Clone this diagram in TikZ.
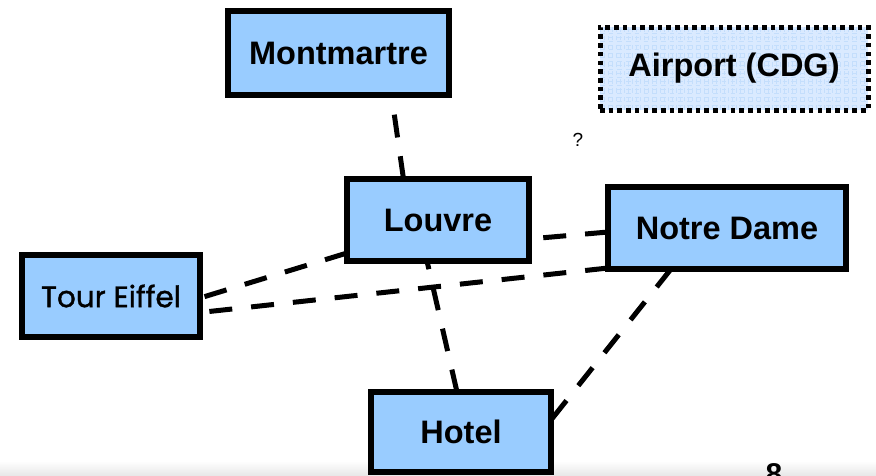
\documentclass[tikz,border=0pt]{standalone}
\usepackage{fontspec}
\setmainfont{Liberation Sans}
\newfontfamily\geofont[FakeBold=1.2]{Poppins}
\definecolor{boxblue}{RGB}{153,204,255}
\definecolor{gridfill}{RGB}{218,234,255}
\definecolor{gridline}{RGB}{196,222,252}
\pgfdeclarelayer{background}
\pgfsetlayers{background,main}
\begin{document}
\begin{tikzpicture}[x=1pt,y=-1pt,
  place/.style={draw=black, line width=5.5pt, fill=boxblue, rectangle,
    inner sep=0pt, outer sep=0pt, font=\fontsize{32.5}{36}\selectfont\bfseries},
  route/.style={line width=5pt, dash pattern=on 23pt off 19pt},
  dotbox/.style={draw=black, line width=5pt, dash pattern=on 4.6pt off 4.1pt,
    fill=gridfill, rectangle, inner sep=0pt, outer sep=0pt,
    font=\fontsize{32.5}{36}\selectfont\bfseries,
    path picture={\draw[gridline, line width=0.5pt]
      (path picture bounding box.south west) grid[step=4pt]
      (path picture bounding box.north east);}}]
\useasboundingbox (0,0) rectangle (876,475);
\clip (0,0) rectangle (876,475);

% places
\node[place, minimum width=221pt, minimum height=84pt] (montmartre) at (338.5,53) {Montmartre};
\node[place, minimum width=182pt, minimum height=82pt] (louvre) at (438,220) {Louvre};
\node[place, minimum width=238pt, minimum height=82pt] (notredame) at (727,228) {Notre Dame};
\node[place, minimum width=178pt, minimum height=82pt,
      font=\fontsize{29.5}{33}\geofont] (eiffel) at (111,296) {Tour Eiffel};
\node[place, minimum width=180pt, minimum height=80pt] (hotel) at (461,432) {Hotel};
\node[dotbox, minimum width=268pt, minimum height=83pt] (airport) at (734,68.5) {Airport (CDG)};

% loose labels
\node[inner sep=0pt, font=\fontsize{19}{22}\selectfont] (query) at (578,140) {?};
\node[inner sep=0pt, anchor=north, font=\fontsize{30}{34}\selectfont\bfseries] (pagenum) at (774,463) {8};

\begin{pgfonlayer}{background}
  % faint band along the lower edge
  \shade[top color=white, bottom color=black!9] (0,461) rectangle (876,475);
  % dashed routes
  \draw[route] ([xshift=-34.5pt]louvre.north) -- ([xshift=53pt]montmartre.south);
  \draw[route] ([yshift=-4pt]notredame.west) -- ([yshift=-19pt]louvre.east);
  \draw[route] ([yshift=-33pt]louvre.west) -- ([yshift=-2pt]eiffel.east);
  \draw[route] ([yshift=-40pt]notredame.west) -- ([yshift=-16.5pt]eiffel.east);
  \draw[route] ([xshift=-4pt]hotel.north) -- ([xshift=-11pt]louvre.south);
  \draw[route] ([xshift=-56pt]notredame.south) -- ([yshift=12pt]hotel.east);
\end{pgfonlayer}
\end{tikzpicture}
\end{document}
